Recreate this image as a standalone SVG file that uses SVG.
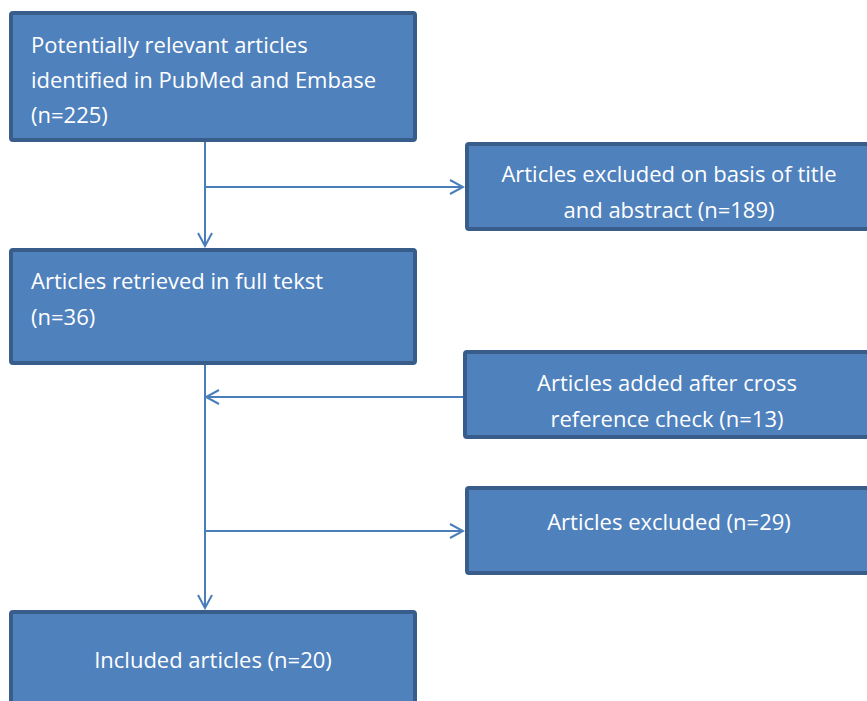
<svg xmlns="http://www.w3.org/2000/svg" width="867" height="701" viewBox="0 0 867 701">
<defs>
<style>
.box{fill:#4f81bd;stroke:#385d8a;stroke-width:4}
.t{font-family:"Open Sans","Liberation Sans",sans-serif;font-size:22px;fill:#ffffff}
.c{text-anchor:middle}
.ln{fill:none;stroke:#4a7ebb;stroke-width:2}
</style>
<marker id="ah" viewBox="0 0 16 16" refX="14" refY="8" markerWidth="16" markerHeight="16" markerUnits="userSpaceOnUse" orient="auto">
<path d="M1,1 L14,8 L1,15" fill="none" stroke="#4a7ebb" stroke-width="2"/>
</marker>
</defs>
<rect width="867" height="701" fill="#ffffff"/>
<g id="connectors">
<line class="ln" x1="205" y1="142" x2="205" y2="246" marker-end="url(#ah)"/>
<line class="ln" x1="205" y1="187" x2="463" y2="187" marker-end="url(#ah)"/>
<line class="ln" x1="205" y1="365" x2="205" y2="608" marker-end="url(#ah)"/>
<line class="ln" x1="463" y1="397" x2="206" y2="397" marker-end="url(#ah)"/>
<line class="ln" x1="205" y1="531" x2="463" y2="531" marker-end="url(#ah)"/>
</g>
<g id="n1">
<rect class="box" x="11" y="13" width="404" height="127" rx="2"/>
<text class="t" x="31" y="53">Potentially relevant articles</text>
<text class="t" x="31" y="88">identified in PubMed and Embase</text>
<text class="t" x="31" y="123">(n=225)</text>
</g>
<g id="n2">
<rect class="box" x="467" y="144" width="404" height="85" rx="2"/>
<text class="t c" x="669" y="182">Articles excluded on basis of title</text>
<text class="t c" x="669" y="218">and abstract (n=189)</text>
</g>
<g id="n3">
<rect class="box" x="11" y="250" width="404" height="113" rx="2"/>
<text class="t" x="31" y="289">Articles retrieved in full tekst</text>
<text class="t" x="31" y="325">(n=36)</text>
</g>
<g id="n4">
<rect class="box" x="465" y="352" width="406" height="85" rx="2"/>
<text class="t c" x="667" y="391">Articles added after cross</text>
<text class="t c" x="667" y="427">reference check (n=13)</text>
</g>
<g id="n5">
<rect class="box" x="467" y="488" width="404" height="85" rx="2"/>
<text class="t c" x="669" y="530">Articles excluded (n=29)</text>
</g>
<g id="n6">
<rect class="box" x="11" y="612" width="404" height="100" rx="2"/>
<text class="t c" x="213" y="668">Included articles (n=20)</text>
</g>
</svg>
